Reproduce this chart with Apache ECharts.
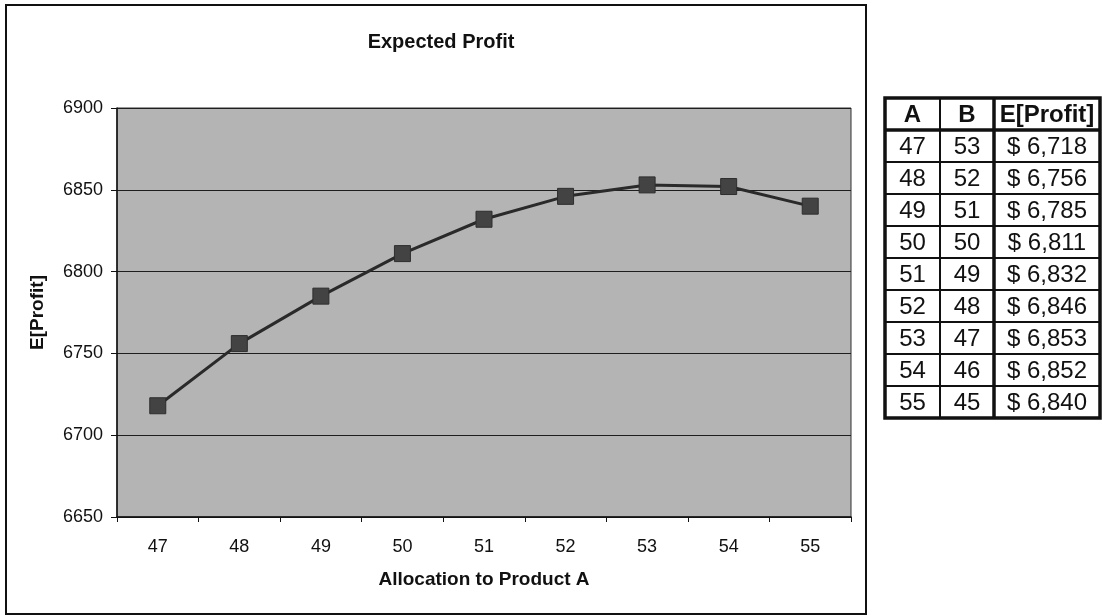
<!DOCTYPE html>
<html>
<head>
<meta charset="utf-8">
<script src="https://cdn.jsdelivr.net/npm/echarts@6/dist/echarts.min.js"></script>
<style>
  html, body { margin: 0; padding: 0; background: #ffffff; }
  #chart { width: 1102px; height: 616px; }
</style>
</head>
<body>
<div id="chart"></div>
<script>
// Allocation to product A (x categories) and the matching allocation to B
const allocA = ['47', '48', '49', '50', '51', '52', '53', '54', '55'];
const allocB = ['53', '52', '51', '50', '49', '48', '47', '46', '45'];
// Expected profit for each allocation
const expectedProfit = [6718, 6756, 6785, 6811, 6832, 6846, 6853, 6852, 6840];
// Table column headers
const tableHeaders = ['A', 'B', 'E[Profit]'];

const FONT = '"Liberation Sans", Arial, sans-serif';

// Side table: built as graphic elements from the arrays above
function buildTable() {
  const left = 885, top = 98;
  const colW = [55, 54, 106];
  const headH = 32, rowH = 32;
  const els = [];
  const colX = [left, left + colW[0], left + colW[0] + colW[1]];
  const totalW = colW[0] + colW[1] + colW[2];
  const totalH = headH + rowH * allocA.length;

  els.push({ type: 'rect', shape: { x: left, y: top, width: totalW, height: totalH },
             style: { fill: '#ffffff', stroke: null }, z: 10 });

  // header text
  tableHeaders.forEach((h, i) => {
    els.push({ type: 'text', z: 12,
      style: { text: h, x: colX[i] + colW[i] / 2, y: top + headH / 2 + 1,
               align: 'center', verticalAlign: 'middle',
               font: 'bold 24px ' + FONT, fill: '#111' } });
  });

  // body rows
  allocA.forEach((a, r) => {
    const cy = top + headH + rowH * r + rowH / 2 + 1;
    const cells = [a, allocB[r], '$ ' + expectedProfit[r].toLocaleString('en-US')];
    cells.forEach((t, i) => {
      els.push({ type: 'text', z: 12,
        style: { text: t, x: colX[i] + colW[i] / 2, y: cy,
                 align: 'center', verticalAlign: 'middle',
                 font: '24px ' + FONT, fill: '#111' } });
    });
    if (r > 0) {
      const y = top + headH + rowH * r;
      els.push({ type: 'line', z: 11, shape: { x1: left, y1: y, x2: left + totalW, y2: y },
                 style: { stroke: '#111', lineWidth: 2 } });
    }
  });

  // header separator (heavy)
  els.push({ type: 'line', z: 11,
    shape: { x1: left, y1: top + headH, x2: left + totalW, y2: top + headH },
    style: { stroke: '#111', lineWidth: 3.5 } });
  // column separators
  els.push({ type: 'line', z: 11,
    shape: { x1: colX[1], y1: top, x2: colX[1], y2: top + totalH },
    style: { stroke: '#111', lineWidth: 2 } });
  els.push({ type: 'line', z: 11,
    shape: { x1: colX[2], y1: top, x2: colX[2], y2: top + totalH },
    style: { stroke: '#111', lineWidth: 3.5 } });
  // outer frame
  els.push({ type: 'rect', z: 13,
    shape: { x: left, y: top, width: totalW, height: totalH },
    style: { fill: null, stroke: '#111', lineWidth: 3.5 } });
  return els;
}

const chart = echarts.init(document.getElementById('chart'), null, { renderer: 'canvas' });

chart.setOption({
  backgroundColor: '#ffffff',
  animation: false,
  title: {
    text: 'Expected Profit',
    left: 436, top: 27, textAlign: 'center',
    textStyle: { fontFamily: FONT, fontWeight: 'bold', fontSize: 20, color: '#111' }
  },
  grid: {
    left: 117, top: 108, width: 734, height: 409,
    show: true, backgroundColor: '#b4b4b4', borderColor: '#333', borderWidth: 1
  },
  xAxis: {
    type: 'category',
    data: allocA,
    boundaryGap: true,
    name: 'Allocation to Product A',
    nameLocation: 'middle',
    nameGap: 53,
    nameTextStyle: { fontFamily: FONT, fontWeight: 'bold', fontSize: 19, color: '#111' },
    axisLine: { lineStyle: { color: '#111', width: 1.5 } },
    axisTick: { show: true, length: 5, alignWithLabel: false, lineStyle: { color: '#111' } },
    axisLabel: { fontFamily: FONT, fontSize: 18, color: '#111', margin: 21 }
  },
  yAxis: {
    type: 'value',
    min: 6650, max: 6900, interval: 50,
    name: 'E[Profit]',
    nameLocation: 'middle',
    nameGap: 70,
    nameRotate: 90,
    nameTextStyle: { fontFamily: FONT, fontWeight: 'bold', fontSize: 19, color: '#111' },
    axisLine: { show: true, lineStyle: { color: '#111', width: 1.5 } },
    axisTick: { show: true, length: 6, lineStyle: { color: '#111' } },
    axisLabel: { fontFamily: FONT, fontSize: 18, color: '#111', margin: 14,
                 formatter: v => String(v) },
    splitLine: { show: true, lineStyle: { color: '#1e1e1e', width: 1 } }
  },
  series: [{
    type: 'line',
    data: expectedProfit,
    symbol: 'rect',
    symbolSize: 16,
    lineStyle: { color: '#2a2a2a', width: 3 },
    itemStyle: { color: '#434343', borderColor: '#2e2e2e', borderWidth: 1 },
    z: 5
  }],
  graphic: [
    { type: 'rect', z: 0, silent: true,
      shape: { x: 6, y: 5, width: 860, height: 609 },
      style: { fill: null, stroke: '#111', lineWidth: 2 } }
  ].concat(buildTable())
});
</script>
</body>
</html>
